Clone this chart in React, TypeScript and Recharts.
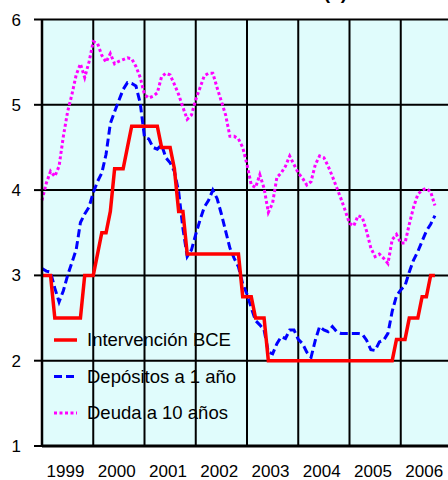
import React from 'react';
import { LineChart, Line, XAxis, YAxis, CartesianGrid, ReferenceLine, Legend } from 'recharts';

// monthly values, Jan 1999 .. Sep 2006
const years = ['1999', '2000', '2001', '2002', '2003', '2004', '2005', '2006'];
const yTicks = [1, 2, 3, 4, 5, 6];

const ecbRate = [
  3, 3, 3, 2.5, 2.5, 2.5, 2.5, 2.5, 2.5, 2.5, 3, 3,
  3, 3.25, 3.5, 3.5, 3.75, 4.25, 4.25, 4.25, 4.5, 4.75, 4.75, 4.75,
  4.75, 4.75, 4.75, 4.75, 4.5, 4.5, 4.5, 4.25, 3.75, 3.75, 3.25, 3.25,
  3.25, 3.25, 3.25, 3.25, 3.25, 3.25, 3.25, 3.25, 3.25, 3.25, 3.25, 2.75,
  2.75, 2.75, 2.5, 2.5, 2.5, 2, 2, 2, 2, 2, 2, 2,
  2, 2, 2, 2, 2, 2, 2, 2, 2, 2, 2, 2,
  2, 2, 2, 2, 2, 2, 2, 2, 2, 2, 2, 2.25,
  2.25, 2.25, 2.5, 2.5, 2.5, 2.75, 2.75, 3, 3,
];

const deposit1y = [
  3.08, 3.05, 3.04, 2.85, 2.69, 2.82, 3.0, 3.15, 3.3, 3.62, 3.72, 3.8,
  3.97, 4.1, 4.2, 4.42, 4.78, 4.92, 5.05, 5.18, 5.26, 5.25, 5.22, 5.02,
  4.62, 4.6, 4.5, 4.48, 4.53, 4.38, 4.32, 4.22, 3.98, 3.55, 3.22, 3.3,
  3.48, 3.65, 3.8, 3.88, 4.0, 3.9, 3.72, 3.52, 3.32, 3.2, 3.1, 2.9,
  2.78, 2.62, 2.47, 2.42, 2.36, 2.1, 2.08, 2.2, 2.28, 2.26, 2.36, 2.36,
  2.25, 2.2, 2.1, 2.04, 2.24, 2.4, 2.36, 2.34, 2.4, 2.34, 2.32, 2.32,
  2.32, 2.32, 2.32, 2.31, 2.24, 2.13, 2.12, 2.22, 2.24, 2.32, 2.58, 2.76,
  2.83, 2.88, 3.04, 3.18, 3.28, 3.4, 3.52, 3.6, 3.7,
];

const bond10y = [
  3.88, 4.08, 4.22, 4.16, 4.28, 4.63, 4.92, 5.12, 5.35, 5.48, 5.32, 5.5,
  5.74, 5.72, 5.58, 5.5, 5.6, 5.48, 5.51, 5.53, 5.55, 5.54, 5.45, 5.32,
  5.12, 5.08, 5.1, 5.14, 5.33, 5.37, 5.35, 5.24, 5.12, 4.97, 4.83, 4.88,
  5.06, 5.2, 5.34, 5.37, 5.37, 5.2, 5.04, 4.88, 4.63, 4.63, 4.6, 4.5,
  4.3, 4.06, 4.03, 4.18, 4.02, 3.74, 3.85, 4.15, 4.2, 4.28, 4.4, 4.3,
  4.2, 4.14, 4.06, 4.1, 4.3, 4.4, 4.38, 4.28, 4.16, 4.03, 3.9, 3.76,
  3.61, 3.58, 3.7, 3.68, 3.52, 3.32, 3.22, 3.25, 3.2, 3.14, 3.42, 3.48,
  3.38, 3.38, 3.6, 3.8, 3.95, 4.0, 4.02, 3.98, 3.82,
];

const data = ecbRate.map((v, i) => ({
  month: i,
  ecb: v,
  dep: deposit1y[i],
  bond: bond10y[i],
}));

const yearBounds = years.map((_, k) => k * 12).slice(1);
const yearLabelPos = years.map((_, k) => k * 12 + 5.5);

const series = [
  { key: 'ecb', name: 'Intervención BCE', color: '#ff0000', width: 3.5, dash: undefined },
  { key: 'dep', name: 'Depósitos a 1 año', color: '#0000ff', width: 3, dash: '8 4' },
  { key: 'bond', name: 'Deuda a 10 años', color: '#ff00ff', width: 3, dash: '3 2.5' },
];

const font = 'Liberation Sans, Arial, sans-serif';

function LegendBox() {
  return (
    <svg width={200} height={112}>
      {series.map((s, k) => (
        <g key={s.key} transform={`translate(0, ${22 + k * 36.5})`}>
          <line x1={6} x2={29} y1={0} y2={0} stroke={s.color} strokeWidth={s.width} strokeDasharray={s.dash} />
          <text x={39} y={0} dy="0.35em" fontSize={18.5} fontFamily={font} fill="#000">
            {s.name}
          </text>
        </g>
      ))}
    </svg>
  );
}

export default function App() {
  return (
    <div style={{ position: 'absolute', left: 0, top: 0, width: 448, height: 480, overflow: 'hidden', background: '#fff' }}>
      <div
        style={{
          position: 'absolute',
          right: 448 - 347,
          top: -18,
          fontFamily: font,
          fontWeight: 'bold',
          fontSize: 19,
          lineHeight: '22px',
          whiteSpace: 'nowrap',
        }}
      >
        TIPOS DE INTERÉS (1)
      </div>
      <LineChart width={452} height={480} data={data} margin={{ top: 19.5, right: 0, bottom: 4, left: 0 }}>
        <CartesianGrid vertical={false} stroke="#000" strokeWidth={2} fill="#e0fcfc" fillOpacity={1} />
        {yearBounds.map((b) => (
          <ReferenceLine key={b} x={b} stroke="#000" strokeWidth={2} />
        ))}
        <XAxis
          dataKey="month"
          type="number"
          domain={[0, 96]}
          ticks={yearLabelPos}
          tickFormatter={(v: number) => years[Math.round((v - 5.5) / 12)]}
          interval={0}
          height={30}
          tickLine={false}
          tickSize={0}
          tickMargin={19}
          axisLine={{ stroke: '#000', strokeWidth: 3 }}
          tick={{ fontSize: 17, fontFamily: font, fill: '#000' }}
        />
        <YAxis
          domain={[1, 6]}
          ticks={yTicks}
          width={42}
          interval={0}
          tickSize={8}
          tickMargin={13}
          axisLine={{ stroke: '#000', strokeWidth: 2.5 }}
          tickLine={{ stroke: '#000', strokeWidth: 2 }}
          tick={{ fontSize: 17, fontFamily: font, fill: '#000' }}
        />
        <Legend
          layout="vertical"
          align="center"
          verticalAlign="middle"
          content={() => <LegendBox />}
          wrapperStyle={{ left: 48, top: 318, width: 200, height: 112 }}
        />
        <Line type="linear" dataKey="bond" name="Deuda a 10 años" stroke="#ff00ff" strokeWidth={3} strokeDasharray="3 2.5" dot={false} isAnimationActive={false} />
        <Line type="linear" dataKey="dep" name="Depósitos a 1 año" stroke="#0000ff" strokeWidth={3} strokeDasharray="8 4" dot={false} isAnimationActive={false} />
        <Line type="linear" dataKey="ecb" name="Intervención BCE" stroke="#ff0000" strokeWidth={3.5} dot={false} isAnimationActive={false} />
      </LineChart>
    </div>
  );
}
